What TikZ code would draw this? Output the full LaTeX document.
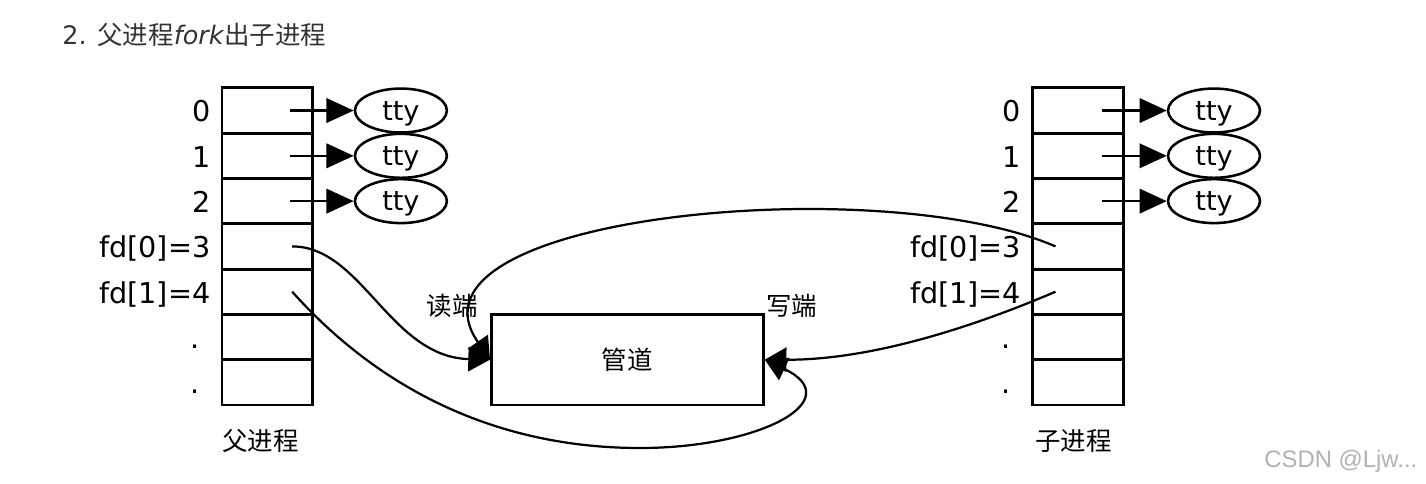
\documentclass[tikz,border=0pt]{standalone}
\usepackage{fontspec}
\setmainfont{DejaVu Sans}
\newfontfamily\cjk{Noto Sans CJK SC}
\newfontfamily\wmfont{Liberation Sans}
\usetikzlibrary{calc,shapes.geometric,arrows.meta}

\begin{document}
\begin{tikzpicture}[x=1cm,y=-1cm,
        cell/.style={rectangle,draw,line width=1.8pt,minimum width=2cm,minimum height=1cm,inner sep=0pt,outer sep=0pt},
        tty/.style={ellipse,draw,line width=1.6pt,minimum width=2.03cm,minimum height=0.97cm,inner sep=0pt,text depth=0pt,font=\fontsize{17}{17}\selectfont},
        fdlabel/.style={anchor=base east,inner sep=0pt,font=\fontsize{18}{18}\selectfont},
        dotlabel/.style={anchor=base,inner sep=0pt,font=\fontsize{18}{18}\selectfont},
        cjklabel/.style={inner sep=0pt,font=\cjk\fontsize{16}{16}\selectfont},
        ttyarrow/.style={line width=1.4pt,-{Triangle[length=0.6cm,width=0.54cm]}},
        pipearrow/.style={line width=1.4pt,-{Triangle[length=0.48cm,width=0.54cm]}}]
            \useasboundingbox (0,0) rectangle (31.48,10.68);

            \node[anchor=west,inner sep=0pt,text=black!80,font=\fontsize{16}{16}\selectfont] (title) at (1.37,0.77) {2. {\cjk 父进程}\textit{fork}{\cjk 出子进程}};

            % fd tables
            \foreach \i in {0,...,6} {
                \node[cell] (pc\i) at (5.9,2.44+\i) {};
                \node[cell] (cc\i) at (23.8,2.44+\i) {};
            }
            \foreach \i/\t in {0/0,1/1,2/2,3/{fd[0]=3},4/{fd[1]=4}} {
                \node[fdlabel] (pl\i) at (4.65,2.69+\i) {\t};
                \node[fdlabel] (cl\i) at (22.55,2.69+\i) {\t};
            }
            \foreach \i in {5,6} {
                \node[dotlabel] (pd\i) at (4.3,2.69+\i) {.};
                \node[dotlabel] (cd\i) at (22.2,2.69+\i) {.};
            }

            % tty
            \foreach \i in {0,1,2} {
                \node[tty] (pt\i) at (8.85,2.44+\i) {tty};
                \node[tty] (ct\i) at (26.8,2.44+\i) {tty};
                \coordinate (pp\i) at ($(pc\i.center)+(0.5,0)$);
                \coordinate (cp\i) at ($(cc\i.center)+(0.53,0)$);
                \draw[ttyarrow] (pp\i) -- (pt\i);
                \draw[ttyarrow] (cp\i) -- (ct\i);
            }

            \node[rectangle,draw,line width=1.8pt,minimum width=6cm,minimum height=2cm,font=\cjk\fontsize{16}{16}\selectfont] (pipe) at (13.85,7.94) {管道};
            \node[cjklabel] (rd) at (9.98,6.75) {读端};
            \node[cjklabel] (wr) at (17.48,6.75) {写端};
            \node[cjklabel,anchor=west] (parent) at (4.9,9.74) {父进程};
            \node[cjklabel,anchor=west] (child) at (22.85,9.74) {子进程};

            \coordinate (pf0) at ($(pc3.center)+(0.55,0)$);
            \coordinate (pf1) at ($(pc4.center)+(0.55,0)$);
            \coordinate (cf0) at ($(cc3.center)+(-0.5,0)$);
            \coordinate (cf1) at ($(cc4.center)+(-0.5,0)$);

            \draw[pipearrow] (pf0) .. controls (7.99,5.44) and (8.61,7.88) .. (pipe.west);
            \draw[pipearrow] (pf1) .. controls (7.51,7.62) and (9.93,9.89) .. (14.13,9.89) .. controls (16.78,9.89) and (18.76,8.83) .. (pipe.east);
            \draw[pipearrow] (cf0) .. controls (19.43,3.75) and (8.61,4.75) .. (pipe.west);
            \draw[pipearrow] (cf1) .. controls (21.85,7.06) and (19.43,7.95) .. (pipe.east);

            \node[inner sep=0pt,text=black!30,font=\wmfont\fontsize{15}{15}\selectfont] (wm) at (29.6,10.18) {CSDN @Ljw...};
        \end{tikzpicture}
\end{document}
